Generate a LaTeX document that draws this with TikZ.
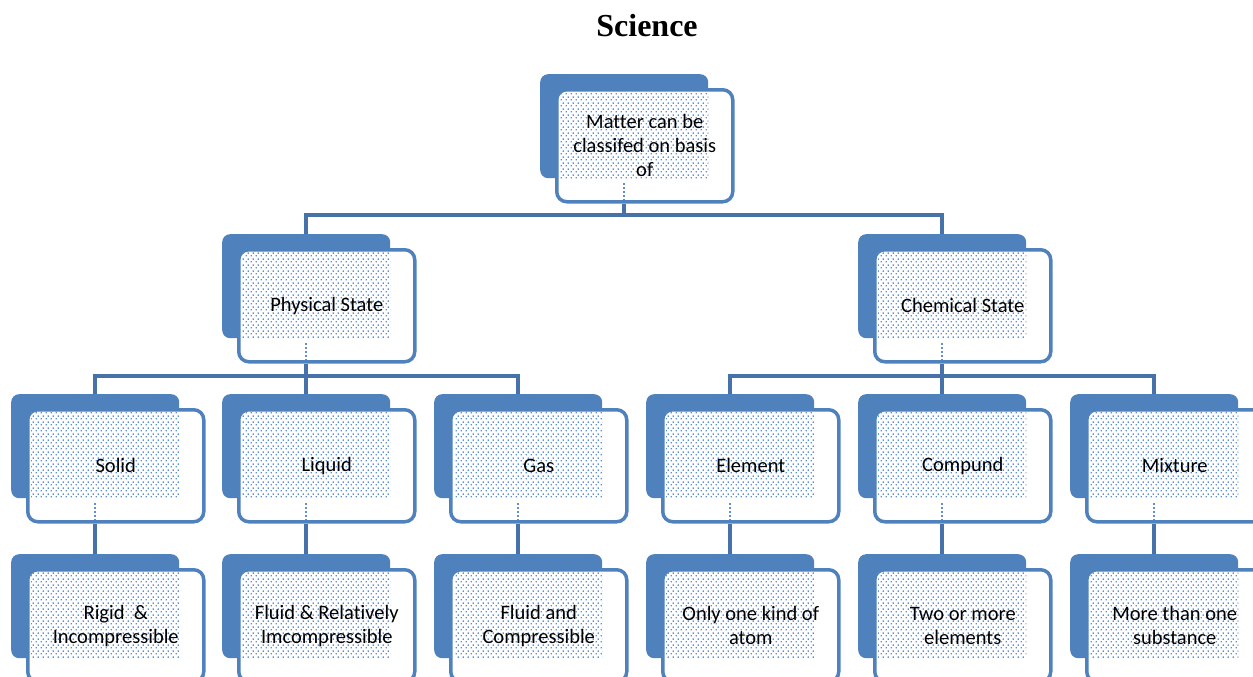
\documentclass[tikz,border=0pt]{standalone}
\usepackage{fontspec}
\setmainfont{Carlito}[Ligatures=NoCommon]
\newfontfamily\sciserif{Liberation Serif}
\usetikzlibrary{patterns}
\pgfdeclarepatternformonly{smartdots}{\pgfpointorigin}{\pgfpoint{5pt}{5.6pt}}{\pgfpoint{5pt}{5.6pt}}{%
  \pgfpathrectangle{\pgfpoint{0.6pt}{0.6pt}}{\pgfpoint{1.5pt}{1.5pt}}%
  \pgfpathrectangle{\pgfpoint{3.1pt}{3.4pt}}{\pgfpoint{1.5pt}{1.5pt}}%
  \pgfusepath{fill}%
}
\definecolor{boxblue}{HTML}{4F81BD}
\definecolor{connblue}{HTML}{4672A9}
\definecolor{dotblue}{HTML}{5E8FD6}
\tikzset{
  backbox/.style={fill=boxblue, draw=none, rounded corners=8pt, minimum width=168pt, minimum height=104pt, inner sep=0pt, anchor=north west},
  frontbox/.style={fill=white, draw=boxblue, line width=3.5pt, rounded corners=10pt, minimum width=176pt, minimum height=112pt, inner sep=0pt, anchor=north west},
  dotarea/.style={pattern=smartdots, pattern color=dotblue},
  lbl/.style={font=\fontsize{20.5}{24}\selectfont, align=center, text=black, inner sep=0pt},
  conn/.style={draw=connblue, line width=4.5pt},
  stub/.style={draw=dotblue, line width=2pt, dotted},
}
% #1 name, #2 x of back box, #3 y of back box, #4 text
\newcommand{\smartbox}[4]{%
  \node[backbox] (#1b) at (#2,#3) {};
  \node[frontbox] (#1f) at ([xshift=15pt,yshift=-14pt]#1b.north west) {};
  \fill[dotarea] ([xshift=5pt,yshift=-4pt]#1f.north west) rectangle (#1b.south east);
  \coordinate (#1s) at (#1b.south |- #1f.south);
  \node[lbl] (#1) at (#1f.center) {#4};
}
\newcommand{\boxstub}[1]{%
  \draw[stub] ([yshift=-5pt]#1b.south) -- ([yshift=4pt]#1s);
}
\begin{document}
\begin{tikzpicture}[x=1pt,y=-1pt]
\useasboundingbox (0,0) rectangle (1253,677);
\clip (0,0) rectangle (1253,677);
\node[font=\sciserif\bfseries\fontsize{32}{38}\selectfont, anchor=base] (title) at (647,37) {Science};

\smartbox{matter}{540}{74}{Matter can be\\classifed on basis\\of}
\smartbox{phys}{222}{234}{Physical State}
\smartbox{chem}{858}{234}{Chemical State}

\smartbox{solid}{11}{394}{Solid}
\smartbox{liquid}{222}{394}{Liquid}
\smartbox{gas}{434}{394}{Gas}
\smartbox{element}{646}{394}{Element}
\smartbox{compund}{858}{394}{Compund}
\smartbox{mixture}{1070}{394}{Mixture}

\smartbox{rigid}{11}{554}{Rigid~~\&\\Incompressible}
\smartbox{fluidrel}{222}{554}{Fluid \& Relatively\\Imcompressible}
\smartbox{fluidcomp}{434}{554}{Fluid and\\Compressible}
\smartbox{onekind}{646}{554}{Only one kind of\\atom}
\smartbox{twomore}{858}{554}{Two or more\\elements}
\smartbox{morethan}{1070}{554}{More than one\\substance}

\foreach \n in {matter,phys,chem,solid,liquid,gas,element,compund,mixture}{\boxstub{\n}}

\coordinate (barA) at (0,215);
\coordinate (barB) at (0,376);

\draw[conn] (matters) -- (matterb.south |- barA) -| (physb.north);
\draw[conn] (matterb.south |- barA) -| (chemb.north);

\draw[conn] (physs) -- (physb.south |- barB) -| (solidb.north);
\draw[conn] (physb.south |- barB) -| (gasb.north);
\draw[conn] (physb.south |- barB) -- (liquidb.north);

\draw[conn] (chems) -- (chemb.south |- barB) -| (elementb.north);
\draw[conn] (chemb.south |- barB) -| (mixtureb.north);
\draw[conn] (chemb.south |- barB) -- (compundb.north);

\draw[conn] (solids) -- (rigidb.north);
\draw[conn] (liquids) -- (fluidrelb.north);
\draw[conn] (gass) -- (fluidcompb.north);
\draw[conn] (elements) -- (onekindb.north);
\draw[conn] (compunds) -- (twomoreb.north);
\draw[conn] (mixtures) -- (morethanb.north);
\end{tikzpicture}
\end{document}
